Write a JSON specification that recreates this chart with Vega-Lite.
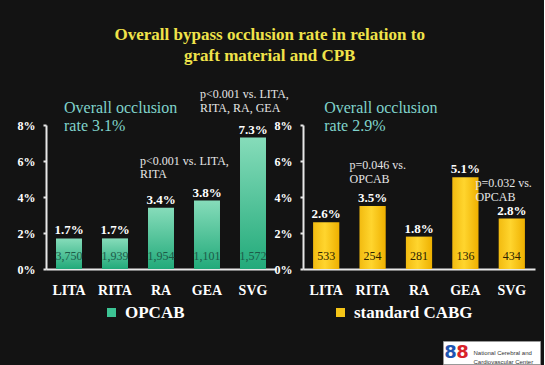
{
  "$schema": "https://vega.github.io/schema/vega-lite/v6.json",
  "background": "#131313",
  "padding": {"left": 17, "top": 26, "right": 3, "bottom": 1},
  "config": {
    "view": {"stroke": null},
    "font": "Liberation Serif",
    "axis": {"grid": false, "title": null, "labelFont": "Liberation Serif", "labelFontWeight": "bold", "labelColor": "white", "domainColor": "#e8e8e8", "domainWidth": 2, "tickColor": "#e8e8e8"},
    "axisX": {"labelAngle": 0, "ticks": false, "labelFontSize": 14, "labelPadding": 14},
    "axisY": {"tickSize": 3, "tickWidth": 2, "labelFontSize": 12, "labelPadding": 8},
    "legend": {"orient": "none", "title": null, "labelFont": "Liberation Serif", "labelFontSize": 17, "labelFontWeight": "bold", "labelColor": "white", "symbolType": "square", "symbolSize": 81, "symbolOpacity": 1, "symbolStrokeWidth": 0, "labelOffset": 5, "legendY": 179}
  },
  "title": {
    "text": ["Overall bypass occlusion rate in relation to", "graft material and CPB"],
    "font": "Liberation Serif", "fontSize": 17, "fontWeight": "bold", "color": "#f0e34a",
    "lineHeight": 21, "anchor": "middle", "frame": "bounds", "offset": 23, "dx": -9
  },
  "datasets": {
    "opcab": [
      {"cat": "LITA", "v": 0.017, "n": 3750},
      {"cat": "RITA", "v": 0.017, "n": 1939},
      {"cat": "RA", "v": 0.034, "n": 1954},
      {"cat": "GEA", "v": 0.038, "n": 1101},
      {"cat": "SVG", "v": 0.073, "n": 1572}
    ],
    "cabg": [
      {"cat": "LITA", "v": 0.026, "n": 533},
      {"cat": "RITA", "v": 0.035, "n": 254},
      {"cat": "RA", "v": 0.018, "n": 281},
      {"cat": "GEA", "v": 0.051, "n": 136},
      {"cat": "SVG", "v": 0.028, "n": 434}
    ],
    "logo": [{"t": "National Cerebral and\nCardiovascular Center"}]
  },
  "bounds": "flush",
  "spacing": 216,
  "vconcat": [
    {
      "bounds": "flush",
      "spacing": 27,
      "resolve": {"scale": {"color": "independent", "x": "independent", "y": "independent"}, "legend": {"color": "independent"}},
      "hconcat": [
        {
          "width": 230, "height": 144,
          "data": {"name": "opcab"},
          "encoding": {
            "x": {"field": "cat", "type": "nominal", "sort": null, "scale": {"domain": ["LITA", "RITA", "RA", "GEA", "SVG"], "paddingInner": 0.435, "paddingOuter": 0.2175}},
            "y": {"field": "v", "type": "quantitative", "scale": {"domain": [0, 0.08]}, "axis": {"values": [0, 0.02, 0.04, 0.06, 0.08], "format": ".0%", "labelOverlap": false}}
          },
          "layer": [
            {
              "mark": {"type": "bar", "fill": {"gradient": "linear", "x1": 0, "y1": 0, "x2": 0, "y2": 1, "stops": [{"offset": 0, "color": "#86dcba"}, {"offset": 1, "color": "#22aa7a"}]}}
            },
            {
              "mark": {"type": "point", "shape": "square", "filled": true, "opacity": 0},
              "encoding": {
                "color": {"datum": "OPCAB", "type": "nominal", "scale": {"range": ["#3cc494"]}, "legend": {"legendX": 57}}
              }
            },
            {
              "mark": {"type": "text", "baseline": "alphabetic", "dy": -4, "fontWeight": "bold", "fontSize": 13, "color": "white"},
              "encoding": {"text": {"field": "v", "format": ".1%"}}
            },
            {
              "mark": {"type": "text", "baseline": "middle", "dy": -13, "fontSize": 12, "color": "#1d5a48"},
              "encoding": {"y": {"datum": 0, "type": "quantitative", "scale": {"domain": [0, 0.08]}, "axis": {"values": [0, 0.02, 0.04, 0.06, 0.08], "format": ".0%", "labelOverlap": false}}, "text": {"field": "n", "format": ","}}
            },
            {
              "data": {"values": [{"cat": "LITA", "v": 0.0894, "t": "Overall occlusion\nrate 3.1%"}]},
              "mark": {"type": "text", "align": "left", "baseline": "middle", "dx": -5, "fontSize": 16, "lineHeight": 18, "lineBreak": "\n", "color": "#80d4cc"},
              "encoding": {"text": {"field": "t"}}
            },
            {
              "data": {"values": [{"cat": "GEA", "v": 0.0972, "t": "p<0.001 vs. LITA,\nRITA, RA, GEA"}]},
              "mark": {"type": "text", "align": "left", "baseline": "middle", "dx": -7, "fontSize": 12, "lineHeight": 14, "lineBreak": "\n", "color": "#e6e6e6"},
              "encoding": {"text": {"field": "t"}}
            },
            {
              "data": {"values": [{"cat": "RA", "v": 0.06, "t": "p<0.001 vs. LITA,\nRITA"}]},
              "mark": {"type": "text", "align": "left", "baseline": "middle", "dx": -21, "fontSize": 12, "lineHeight": 13, "lineBreak": "\n", "color": "#e6e6e6"},
              "encoding": {"text": {"field": "t"}}
            }
          ]
        },
        {
          "width": 232, "height": 144,
          "data": {"name": "cabg"},
          "encoding": {
            "x": {"field": "cat", "type": "nominal", "sort": null, "scale": {"domain": ["LITA", "RITA", "RA", "GEA", "SVG"], "paddingInner": 0.435, "paddingOuter": 0.2175}},
            "y": {"field": "v", "type": "quantitative", "scale": {"domain": [0, 0.08]}, "axis": {"values": [0, 0.02, 0.04, 0.06, 0.08], "format": ".0%", "labelOverlap": false}}
          },
          "layer": [
            {
              "mark": {"type": "bar", "fill": {"gradient": "linear", "x1": 0, "y1": 0, "x2": 1, "y2": 0, "stops": [{"offset": 0, "color": "#f2bb10"}, {"offset": 0.45, "color": "#ffd52e"}, {"offset": 1, "color": "#eeb000"}]}}
            },
            {
              "mark": {"type": "point", "shape": "square", "filled": true, "opacity": 0},
              "encoding": {
                "color": {"datum": "standard CABG", "type": "nominal", "scale": {"range": ["#f5c518"]}, "legend": {"legendX": 29}}
              }
            },
            {
              "mark": {"type": "text", "baseline": "alphabetic", "dy": -4, "fontWeight": "bold", "fontSize": 13, "color": "white"},
              "encoding": {"text": {"field": "v", "format": ".1%"}}
            },
            {
              "mark": {"type": "text", "baseline": "middle", "dy": -13, "fontSize": 12, "color": "#2a2200"},
              "encoding": {"y": {"datum": 0, "type": "quantitative", "scale": {"domain": [0, 0.08]}, "axis": {"values": [0, 0.02, 0.04, 0.06, 0.08], "format": ".0%", "labelOverlap": false}}, "text": {"field": "n", "format": ","}}
            },
            {
              "data": {"values": [{"cat": "LITA", "v": 0.0894, "t": "Overall occlusion\nrate 2.9%"}]},
              "mark": {"type": "text", "align": "left", "baseline": "middle", "dx": -2, "fontSize": 16, "lineHeight": 18, "lineBreak": "\n", "color": "#80d4cc"},
              "encoding": {"text": {"field": "t"}}
            },
            {
              "data": {"values": [{"cat": "RITA", "v": 0.0576, "t": "p=0.046 vs.\nOPCAB"}]},
              "mark": {"type": "text", "align": "left", "baseline": "middle", "dx": -23, "fontSize": 12, "lineHeight": 14, "lineBreak": "\n", "color": "#e6e6e6"},
              "encoding": {"text": {"field": "t"}}
            },
            {
              "data": {"values": [{"cat": "GEA", "v": 0.0478, "t": "p=0.032 vs.\nOPCAB"}]},
              "mark": {"type": "text", "align": "left", "baseline": "middle", "dx": 10, "fontSize": 12, "lineHeight": 14, "lineBreak": "\n", "color": "#e6e6e6"},
              "encoding": {"text": {"field": "t"}}
            }
          ]
        }
      ]
    },
    {
      "bounds": "flush",
      "spacing": 10,
      "hconcat": [
        {
          "width": 387, "height": 24,
          "data": {"values": [{}]},
          "mark": {"type": "text", "text": ""},
          "encoding": {}
        },
        {
          "width": 97, "height": 23,
          "view": {"fill": "white", "stroke": "#999999"},
          "data": {"name": "logo"},
          "layer": [
            {"mark": {"type": "text", "text": "8", "font": "DejaVu Sans", "fontSize": 18, "fontWeight": "bold", "color": "#1f55b0", "dx": -41}, "encoding": {}},
            {"mark": {"type": "text", "text": "8", "font": "DejaVu Sans", "fontSize": 18, "fontWeight": "bold", "color": "#d8232a", "dx": -29}, "encoding": {}},
            {"mark": {"type": "text", "align": "left", "baseline": "middle", "dx": -18, "font": "Liberation Sans", "fontSize": 6, "lineHeight": 9, "lineBreak": "\n", "color": "#333333"}, "encoding": {"text": {"field": "t"}}}
          ]
        }
      ]
    }
  ]
}
